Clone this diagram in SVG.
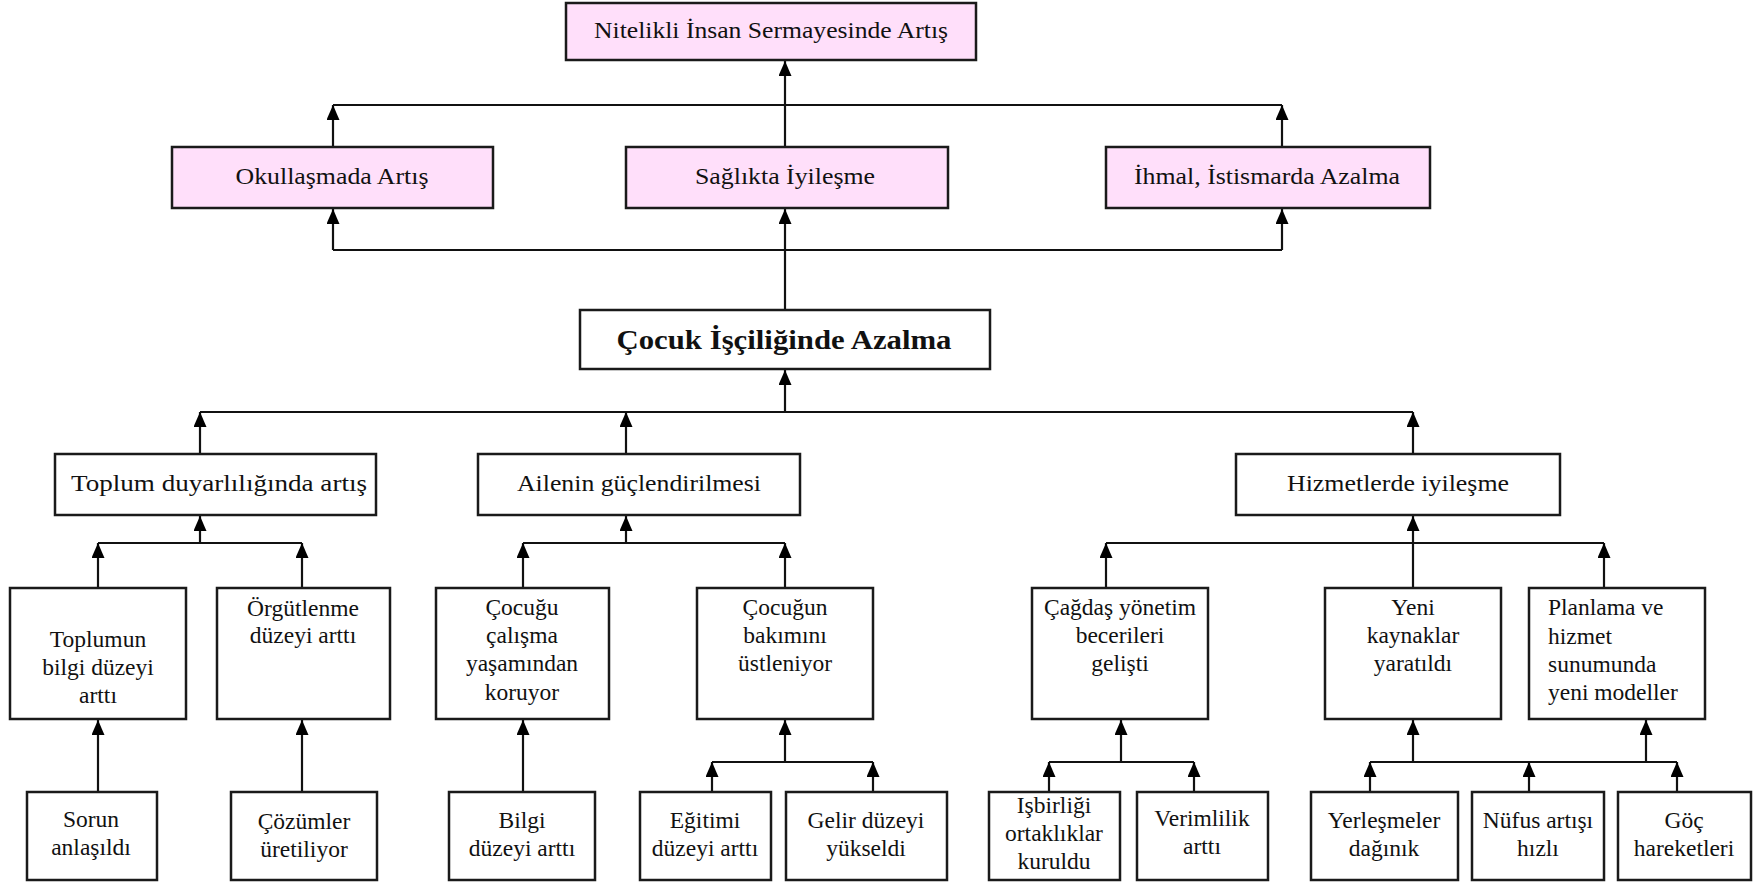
<svg xmlns="http://www.w3.org/2000/svg" width="1763" height="883" viewBox="0 0 1763 883">
<defs>
<marker id="ah" markerUnits="userSpaceOnUse" markerWidth="15" markerHeight="13" refX="15" refY="6.5" orient="auto">
<path d="M0,0 L15,6.5 L0,13 z" fill="#000"/>
</marker>
<style>
.box{fill:#fff;stroke:#1a1a1a;stroke-width:2.5}
.pink{fill:#ffdffa;stroke:#1a1a1a;stroke-width:2.5}
.t{font-family:"Liberation Serif","Times New Roman",serif;font-size:24px;fill:#111;text-anchor:middle}
.s{font-family:"Liberation Serif","Times New Roman",serif;font-size:23.5px;fill:#111;text-anchor:middle}
.b{font-family:"Liberation Serif","Times New Roman",serif;font-size:28px;font-weight:bold;fill:#111;text-anchor:middle}
.c{fill:none;stroke:#111;stroke-width:2.2}
.a{fill:none;stroke:#111;stroke-width:2.2;marker-end:url(#ah)}
</style>
</defs>
<rect width="1763" height="883" fill="#fff"/>

<g id="connectors">
<path class="a" d="M785,147 V61"/>
<path class="a" d="M333,147 V105"/>
<path class="a" d="M1282,147 V105"/>
<path class="c" d="M333,105 H1282"/>
<path class="c" d="M333,250 H1282"/>
<path class="a" d="M333,250 V209"/>
<path class="a" d="M1282,250 V209"/>
<path class="a" d="M785,310 V209"/>
<path class="a" d="M785,412 V370"/>
<path class="c" d="M200,412 H1413"/>
<path class="a" d="M200,454 V412"/>
<path class="a" d="M626,454 V412"/>
<path class="a" d="M1413,454 V412"/>
<path class="a" d="M200,543 V516"/>
<path class="c" d="M98,543 H302"/>
<path class="a" d="M98,588 V543"/>
<path class="a" d="M302,588 V543"/>
<path class="a" d="M626,543 V516"/>
<path class="c" d="M523,543 H785"/>
<path class="a" d="M523,588 V543"/>
<path class="a" d="M785,588 V543"/>
<path class="a" d="M1413,588 V516"/>
<path class="c" d="M1106,543 H1604"/>
<path class="a" d="M1106,588 V543"/>
<path class="a" d="M1604,588 V543"/>
<path class="a" d="M98,792 V720"/>
<path class="a" d="M302,792 V720"/>
<path class="a" d="M523,792 V720"/>
<path class="a" d="M785,762 V720"/>
<path class="c" d="M712,762 H873"/>
<path class="a" d="M712,792 V762"/>
<path class="a" d="M873,792 V762"/>
<path class="a" d="M1121,762 V720"/>
<path class="c" d="M1049,762 H1194"/>
<path class="a" d="M1049,792 V762"/>
<path class="a" d="M1194,792 V762"/>
<path class="a" d="M1413,762 V720"/>
<path class="a" d="M1646,762 V720"/>
<path class="c" d="M1370,762 H1677"/>
<path class="a" d="M1370,792 V762"/>
<path class="a" d="M1529,792 V762"/>
<path class="a" d="M1677,792 V762"/>
</g>

<g id="n0"><rect class="pink" x="566" y="3" width="410" height="57"/><text class="t" x="771" y="38" textLength="354" lengthAdjust="spacingAndGlyphs">Nitelikli İnsan Sermayesinde Artış</text></g>
<g id="n1"><rect class="pink" x="172" y="147" width="321" height="61"/><text class="t" x="332" y="184" textLength="193" lengthAdjust="spacingAndGlyphs">Okullaşmada Artış</text></g>
<g id="n2"><rect class="pink" x="626" y="147" width="322" height="61"/><text class="t" x="785" y="184" textLength="180" lengthAdjust="spacingAndGlyphs">Sağlıkta İyileşme</text></g>
<g id="n3"><rect class="pink" x="1106" y="147" width="324" height="61"/><text class="t" x="1267" y="184" textLength="266" lengthAdjust="spacingAndGlyphs">İhmal, İstismarda Azalma</text></g>
<g id="n4"><rect class="box" x="580" y="310" width="410" height="59"/><text class="b" x="784" y="349" textLength="335" lengthAdjust="spacingAndGlyphs">Çocuk İşçiliğinde Azalma</text></g>
<g id="n5"><rect class="box" x="55" y="454" width="321" height="61"/><text class="t" x="219" y="491" textLength="296" lengthAdjust="spacingAndGlyphs">Toplum duyarlılığında artış</text></g>
<g id="n6"><rect class="box" x="478" y="454" width="322" height="61"/><text class="t" x="639" y="491" textLength="244" lengthAdjust="spacingAndGlyphs">Ailenin güçlendirilmesi</text></g>
<g id="n7"><rect class="box" x="1236" y="454" width="324" height="61"/><text class="t" x="1398" y="491" textLength="222" lengthAdjust="spacingAndGlyphs">Hizmetlerde iyileşme</text></g>

<g id="n8"><rect class="box" x="10" y="588" width="176" height="131"/><text class="s"><tspan x="98" y="647">Toplumun</tspan><tspan x="98" y="675">bilgi düzeyi</tspan><tspan x="98" y="703">arttı</tspan></text></g>
<g id="n9"><rect class="box" x="217" y="588" width="173" height="131"/><text class="s"><tspan x="303" y="616">Örgütlenme</tspan><tspan x="303" y="643">düzeyi arttı</tspan></text></g>
<g id="n10"><rect class="box" x="436" y="588" width="173" height="131"/><text class="s"><tspan x="522" y="615">Çocuğu</tspan><tspan x="522" y="643">çalışma</tspan><tspan x="522" y="671">yaşamından</tspan><tspan x="522" y="700">koruyor</tspan></text></g>
<g id="n11"><rect class="box" x="697" y="588" width="176" height="131"/><text class="s"><tspan x="785" y="615">Çocuğun</tspan><tspan x="785" y="643">bakımını</tspan><tspan x="785" y="671">üstleniyor</tspan></text></g>
<g id="n12"><rect class="box" x="1032" y="588" width="176" height="131"/><text class="s"><tspan x="1120" y="615">Çağdaş yönetim</tspan><tspan x="1120" y="643">becerileri</tspan><tspan x="1120" y="671">gelişti</tspan></text></g>
<g id="n13"><rect class="box" x="1325" y="588" width="176" height="131"/><text class="s"><tspan x="1413" y="615">Yeni</tspan><tspan x="1413" y="643">kaynaklar</tspan><tspan x="1413" y="671">yaratıldı</tspan></text></g>
<g id="n14"><rect class="box" x="1529" y="588" width="176" height="131"/><text class="s" style="text-anchor:start"><tspan x="1548" y="615">Planlama ve</tspan><tspan x="1548" y="644">hizmet</tspan><tspan x="1548" y="672">sunumunda</tspan><tspan x="1548" y="700">yeni modeller</tspan></text></g>

<g id="n15"><rect class="box" x="27" y="792" width="130" height="88"/><text class="s"><tspan x="91" y="827">Sorun</tspan><tspan x="91" y="855">anlaşıldı</tspan></text></g>
<g id="n16"><rect class="box" x="231" y="792" width="146" height="88"/><text class="s"><tspan x="304" y="829">Çözümler</tspan><tspan x="304" y="857">üretiliyor</tspan></text></g>
<g id="n17"><rect class="box" x="449" y="792" width="146" height="88"/><text class="s"><tspan x="522" y="828">Bilgi</tspan><tspan x="522" y="856">düzeyi arttı</tspan></text></g>
<g id="n18"><rect class="box" x="640" y="792" width="131" height="88"/><text class="s"><tspan x="705" y="828">Eğitimi</tspan><tspan x="705" y="856">düzeyi arttı</tspan></text></g>
<g id="n19"><rect class="box" x="786" y="792" width="161" height="88"/><text class="s"><tspan x="866" y="828">Gelir düzeyi</tspan><tspan x="866" y="856">yükseldi</tspan></text></g>
<g id="n20"><rect class="box" x="989" y="792" width="131" height="88"/><text class="s"><tspan x="1054" y="813">Işbirliği</tspan><tspan x="1054" y="841">ortaklıklar</tspan><tspan x="1054" y="869">kuruldu</tspan></text></g>
<g id="n21"><rect class="box" x="1137" y="792" width="131" height="88"/><text class="s"><tspan x="1202" y="826">Verimlilik</tspan><tspan x="1202" y="854">arttı</tspan></text></g>
<g id="n22"><rect class="box" x="1311" y="792" width="147" height="88"/><text class="s"><tspan x="1384" y="828">Yerleşmeler</tspan><tspan x="1384" y="856">dağınık</tspan></text></g>
<g id="n23"><rect class="box" x="1472" y="792" width="132" height="88"/><text class="s"><tspan x="1538" y="828">Nüfus artışı</tspan><tspan x="1538" y="856">hızlı</tspan></text></g>
<g id="n24"><rect class="box" x="1618" y="792" width="133" height="88"/><text class="s"><tspan x="1684" y="828">Göç</tspan><tspan x="1684" y="856">hareketleri</tspan></text></g>
</svg>
